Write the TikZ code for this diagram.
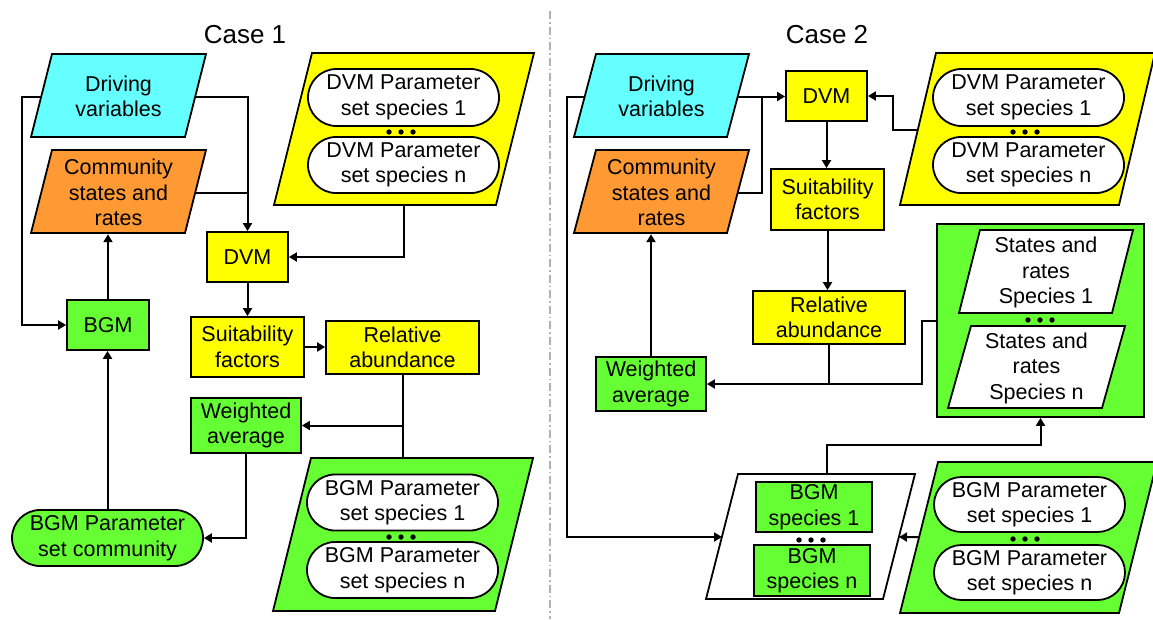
\documentclass[tikz,border=0pt]{standalone}
\usepackage{fontspec}
\setmainfont{Liberation Sans}
\usetikzlibrary{arrows.meta,shapes.misc,calc}
\pgfdeclarelayer{bg}
\pgfsetlayers{bg,main}
\definecolor{cyanF}{HTML}{66FFFF}
\definecolor{orangeF}{HTML}{FF9933}
\definecolor{yellowF}{HTML}{FFFF00}
\definecolor{greenF}{HTML}{66FF33}
% parallelogram: name, fill, xBL, xBR, yTop, yBot, slant, text
\newcommand\mypara[8]{%
  \draw[pshape, fill=#2] ({#3+#7},#5) -- ({#4+#7},#5) -- (#4,#6) -- (#3,#6) -- cycle;
  \node[txt, minimum width={(#4-#3+#7)*1pt}, minimum height={(#6-#5)*1pt}] (#1)
    at ({(#3+#4+#7)/2},{(#5+#6)/2+1}) {#8};%
}
\newcommand\mydots[2]{%
  \fill (#1-12,#2) circle (2.7pt) (#1,#2) circle (2.7pt) (#1+12,#2) circle (2.7pt);%
}
\begin{document}
\begin{tikzpicture}[x=1pt,y=-1pt,
  txt/.style={font=\fontsize{21.5}{25.5}\selectfont, align=center, inner sep=0pt},
  box/.style={txt, draw, line width=1.8pt, rectangle},
  stad/.style={txt, draw, line width=1.8pt, rounded rectangle, fill=white, minimum width=191pt, minimum height=56pt},
  pshape/.style={draw, line width=1.8pt, line join=miter},
  arr/.style={line width=2pt, -{Triangle[length=8pt,width=9pt]}},
  ln/.style={line width=2pt},
  ttl/.style={font=\fontsize{26}{30}\selectfont, inner sep=0pt}
]
\useasboundingbox (0,0) rectangle (1153,619);
\clip (0,0) rectangle (1153,619);

% ---------------- Case 1 ----------------
\node[ttl] (t1) at (245,35) {Case 1};
\mypara{dv1}{cyanF}{31}{185}{54}{137}{21}{Driving\\variables}
\mypara{cs1}{orangeF}{31}{185}{150}{233}{21}{Community\\states and\\rates}
\mypara{dp1}{yellowF}{274}{496}{53}{205}{38}{}
\node[stad, minimum height=57pt] (dp1a) at (403.5,97.5) {DVM Parameter\\set species 1};
\node[stad] (dp1b) at (403.5,165) {DVM Parameter\\set species n};
\mydots{401}{132}
\mypara{bp1}{greenF}{273}{495}{458}{611}{38}{}
\node[stad] (bp1a) at (402.5,502.5) {BGM Parameter\\set species 1};
\node[stad] (bp1b) at (402.5,570) {BGM Parameter\\set species n};
\mydots{401}{537}
\node[stad, fill=greenF] (bpc) at (107.5,538) {BGM Parameter\\set community};

\node[box, fill=yellowF, minimum width=81pt, minimum height=50pt] (dvm1) at (247.5,257) {DVM};
\node[box, fill=greenF, minimum width=82pt, minimum height=50pt] (bgm1) at (108,325) {BGM};
\node[box, fill=yellowF, minimum width=113pt, minimum height=60pt] (suit1) at (247.5,347) {Suitability\\factors};
\node[box, fill=yellowF, minimum width=153pt, minimum height=53pt] (rel1) at (402.5,347.5) {Relative\\abundance};
\node[box, fill=greenF, minimum width=110pt, minimum height=55pt] (wa1) at (246,425.5) {Weighted\\average};

% ---------------- Case 2 ----------------
\node[ttl] (t2) at (827,35) {Case 2};
\mypara{dv2}{cyanF}{574}{727}{54}{137}{22}{Driving\\variables}
\mypara{cs2}{orangeF}{574}{727}{150}{233}{22}{Community\\states and\\rates}
\mypara{dp2}{yellowF}{900}{1119}{53}{205}{36}{}
\node[stad, minimum height=57pt] (dp2a) at (1028.5,97.5) {DVM Parameter\\set species 1};
\node[stad] (dp2b) at (1028.5,165) {DVM Parameter\\set species n};
\mydots{1025}{132}

\node[box, fill=greenF, minimum width=207pt, minimum height=193pt] (sr2) at (1040.5,320.5) {};
\mypara{st1}{white}{959}{1112}{230}{313}{21}{States and\\rates\\Species 1}
\mypara{stn}{white}{948}{1102}{326}{408}{23}{States and\\rates\\Species n}
\mydots{1040}{320}

\mypara{bs2}{white}{706}{883}{474}{599}{32}{}
\node[box, fill=greenF, minimum width=116pt, minimum height=50pt] (b1) at (814,507) {BGM\\species 1};
\node[box, fill=greenF, minimum width=116pt, minimum height=51pt] (bn) at (812,570.5) {BGM\\species n};
\mydots{811}{540}

\mypara{bp2}{greenF}{900}{1119}{462}{613}{38}{}
\node[stad, minimum height=55pt] (bp2a) at (1029.5,504.5) {BGM Parameter\\set species 1};
\node[stad, minimum height=55pt] (bp2b) at (1029.5,572.5) {BGM Parameter\\set species n};
\mydots{1025}{539}

\node[box, fill=yellowF, minimum width=81pt, minimum height=50pt] (dvm2) at (826.5,96) {DVM};
\node[box, fill=yellowF, minimum width=113pt, minimum height=61pt] (suit2) at (827.5,199.5) {Suitability\\factors};
\node[box, fill=yellowF, minimum width=152pt, minimum height=53pt] (rel2) at (829,317.5) {Relative\\abundance};
\node[box, fill=greenF, minimum width=110pt, minimum height=54pt] (wa2) at (651,384) {Weighted\\average};

\coordinate (j2) at (762,96);
\coordinate (bs2w) at (722,537);
\coordinate (bs2e) at (899,537);
\coordinate (bs2n) at (827,474);

% ---------------- connectors ----------------
\begin{pgfonlayer}{bg}
\draw[gray!60, line width=1.2pt, dash pattern=on 8pt off 3pt on 1.5pt off 3pt] (550,11) -- (550,619);
% case 1
\draw[arr] (dv1.center) -- (dv1.center -| dvm1.north) -- (dvm1.north);
\draw[ln] (cs1.center) -- (cs1.center -| dvm1.north);
\draw[arr] (dv1.center) -- ++(-97,0) |- (bgm1.west);
\draw[arr] (dp1.center) |- (dvm1.east);
\draw[arr] (dvm1.south) -- (suit1.north);
\draw[arr] (suit1.east) -- (rel1.west |- suit1.east);
\draw[ln] (rel1.south) -- (rel1.south |- bp1.north);
\draw[arr] (rel1.south |- wa1.east) -- (wa1.east);
\draw[arr] (wa1.south) |- (bpc.east);
\draw[arr] (bpc.north) -- (bpc.north |- bgm1.south);
\draw[arr] (bgm1.north) -- (bgm1.north |- cs1.south);
% case 2
\draw[arr] (dv2.center) -- (dv2.center -| dvm2.west);
\draw[ln] (cs2.center) -| (j2);
\draw[arr] (dv2.center) -- ++(-95,0) |- (bs2w);
\draw[arr] (dp2.center) -- ++(-134.5,0) |- (dvm2.east);
\draw[arr] (dvm2.south) -- (dvm2.south |- suit2.north);
\draw[arr] (suit2.south) -- (suit2.south |- rel2.north);
\draw[arr] (rel2.south) |- (wa2.east);
\draw[ln] (sr2.west) -| (922,384) -- (rel2.south |- wa2.east);
\draw[arr] (wa2.north) -- (wa2.north |- cs2.south);
\draw[arr] (bs2n) -- ++(0,-29) -| (sr2.south);
\draw[arr] (bp2.center) -- (bs2e);
\end{pgfonlayer}
\end{tikzpicture}
\end{document}
